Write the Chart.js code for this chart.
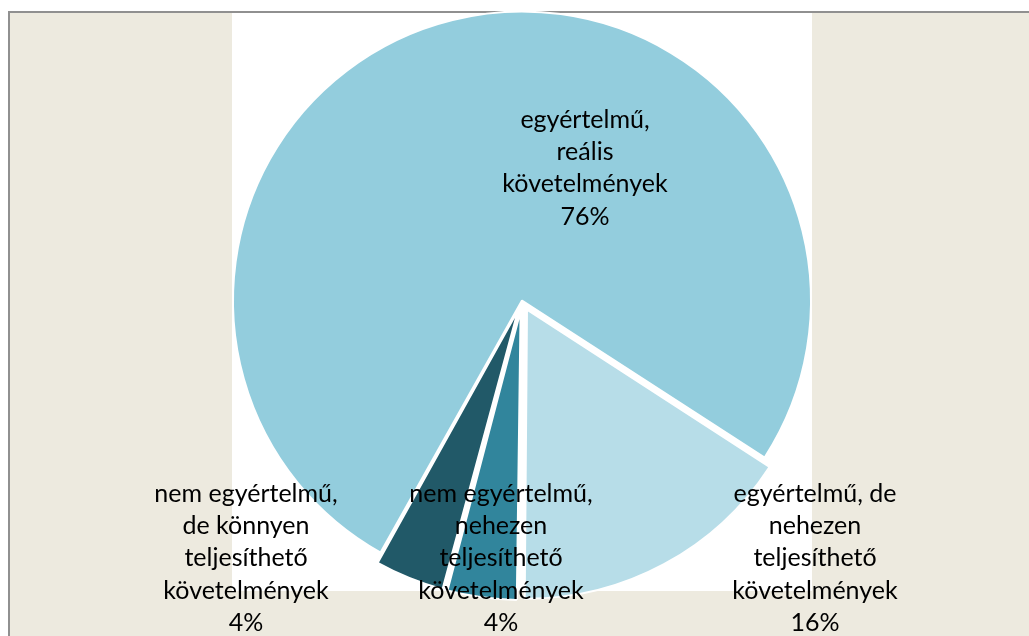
<!DOCTYPE html>
<html>
<head>
<meta charset="utf-8">
<script src="https://cdn.jsdelivr.net/npm/chart.js@4/dist/chart.umd.min.js"></script>
<style>
  html, body { margin: 0; padding: 0; background: #ffffff; }
  canvas { display: block; }
</style>
</head>
<body>
<canvas id="c" width="1029" height="636"></canvas>
<script>
// ---- data ----
const categories = [
  "egyértelmű, reális követelmények",
  "egyértelmű, de nehezen teljesíthető követelmények",
  "nem egyértelmű, nehezen teljesíthető követelmények",
  "nem egyértelmű, de könnyen teljesíthető követelmények"
];
const labelLines = [
  ["egyértelmű,", "reális", "követelmények"],
  ["egyértelmű, de", "nehezen", "teljesíthető", "követelmények"],
  ["nem egyértelmű,", "nehezen", "teljesíthető", "követelmények"],
  ["nem egyértelmű,", "de könnyen", "teljesíthető", "követelmények"]
];
const percentValues = [76, 16, 4, 4];

// ---- styling (kept separate from data) ----
const sliceColors = ["#93CDDD", "#B7DDE8", "#31859C", "#215968"];
const sliceOffsets = [0, 42, 42, 42];
// label anchor offsets from pie centre (centre x, first-line y)
const labelAnchors = [
  [63, -181],
  [293, 193],
  [-21, 193],
  [-276, 193]
];
const LINE_H = 32.4;
const FONT = "25px Lato";

const bgPlugin = {
  id: "bg",
  beforeDraw(chart) {
    const ctx = chart.ctx;
    ctx.save();
    ctx.fillStyle = "#ffffff";
    ctx.fillRect(0, 0, chart.width, chart.height);
    ctx.fillStyle = "#EDEADF";
    ctx.fillRect(10, 13, chart.width - 10, chart.height - 13);
    ctx.fillStyle = "#ffffff";
    ctx.fillRect(232, 13, 580, 578);
    ctx.fillStyle = "#909090";
    ctx.fillRect(8, 11, chart.width - 8, 2);
    ctx.fillRect(8, 11, 2, chart.height - 11);
    ctx.restore();
  }
};

const radiusFix = {
  id: "radiusFix",
  afterDatasetsUpdate(chart) {
    const meta = chart.getDatasetMeta(0);
    meta.data.forEach(arc => {
      const off = (arc.options.offset || 0) / 4;
      const fix = 1 - Math.sin(Math.min(Math.PI, arc.circumference));
      arc.outerRadius -= off * fix;
    });
  }
};

const labelPlugin = {
  id: "labels",
  afterDatasetsDraw(chart) {
    const ctx = chart.ctx;
    const meta = chart.getDatasetMeta(0);
    const cx = meta.data[0].x, cy = meta.data[0].y;
    ctx.save();
    ctx.font = FONT;
    ctx.fillStyle = "#000000";
    ctx.textAlign = "center";
    ctx.textBaseline = "middle";
    labelLines.forEach((lines, i) => {
      const all = lines.concat([percentValues[i] + "%"]);
      const ax = cx + labelAnchors[i][0];
      const ay = cy + labelAnchors[i][1];
      all.forEach((t, k) => ctx.fillText(t, ax, ay + k * LINE_H));
    });
    ctx.restore();
  }
};

new Chart(document.getElementById("c"), {
  type: "pie",
  data: {
    labels: categories,
    datasets: [{
      data: percentValues,
      backgroundColor: sliceColors,
      borderColor: "#ffffff",
      borderWidth: 2,
      offset: sliceOffsets,
      radius: 289
    }]
  },
  options: {
    responsive: false,
    animation: false,
    rotation: 209.3,
    layout: { padding: { left: 15, right: 0, top: 0, bottom: 35 } },
    plugins: {
      legend: { display: false },
      tooltip: { enabled: false }
    },
    events: []
  },
  plugins: [bgPlugin, radiusFix, labelPlugin]
});
</script>
</body>
</html>
